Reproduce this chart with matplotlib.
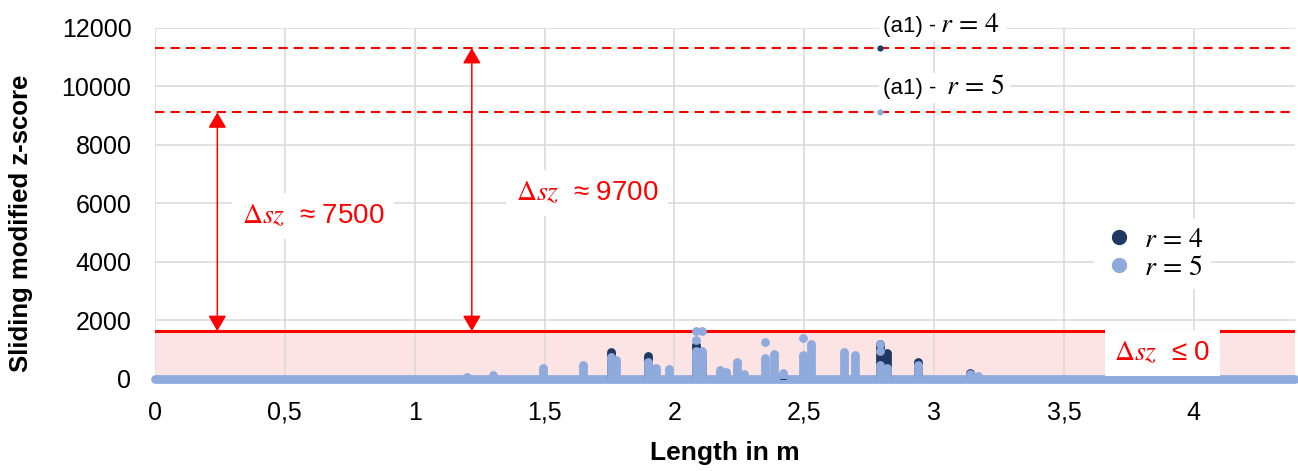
import numpy as np
import matplotlib.pyplot as plt
from matplotlib.lines import Line2D

plt.rcParams['font.family'] = ['Liberation Sans', 'DejaVu Sans']
plt.rcParams['mathtext.fontset'] = 'stix'

# thresholds / annotated values
thr = 1620          # solid red line (upper limit of the shaded band)
a1_r4 = 11300       # (a1) - r=4
a1_r5 = 9100        # (a1) - r=5
x_a1 = 2.79
x_end = 4.39

# r = 4 (dark) spikes: column tops
stem4_x = [1.757, 1.90, 2.085, 2.107, 2.42, 2.79, 2.82, 2.94, 3.14]
stem4_y = [900, 780, 1150, 700, 100, 1180, 870, 580, 200]

# r = 5 (light) spikes: column tops and separated dots
stem5_x = [1.20, 1.30, 1.496, 1.65, 1.757, 1.777, 1.90, 1.93, 1.98, 2.085, 2.107,
           2.177, 2.20, 2.24, 2.27, 2.35, 2.385, 2.42, 2.496, 2.527, 2.654, 2.695,
           2.79, 2.82, 2.94, 3.14, 3.17]
stem5_y = [40, 110, 360, 460, 750, 630, 575, 360, 330, 950, 940,
           290, 220, 575, 150, 700, 840, 190, 800, 1180, 920, 800,
           460, 360, 460, 150, 100]
dot5_x = [2.085, 2.107, 2.085, 2.35, 2.496, 2.79, 2.79, 2.085]
dot5_y = [1640, 1640, 1300, 1260, 1380, 1180, 940, 700]

xticks = [0, 0.5, 1, 1.5, 2, 2.5, 3, 3.5, 4]
xticklabels = ['0', '0,5', '1', '1,5', '2', '2,5', '3', '3,5', '4']
yticks = [0, 2000, 4000, 6000, 8000, 10000, 12000]

c4 = '#203864'
c5 = '#8FAADC'
red = '#FF0000'
s_pt = 40
lw_stem = 6.3

fig = plt.figure(figsize=(12.98, 4.71), dpi=100)
ax = fig.add_axes([155/1298, 1-378.5/471, (1295-155)/1298, 351/471])

ax.axhspan(0, thr, color='#FDE4E4', zorder=0.2, lw=0)
ax.set_axisbelow(True)
ax.grid(True, color='#D9D9D9', lw=1.1)

ax.axhline(thr, color=red, lw=2.2, zorder=2)
for yv in (a1_r4, a1_r5):
    ax.axhline(yv, color=red, lw=1.5, dashes=(4.5, 2.9), zorder=2)

# baseline of points sitting at 0
ax.plot([0, x_end], [0, 0], color=c5, lw=lw_stem, solid_capstyle='round', zorder=3, clip_on=False)

# r = 4 series
ax.vlines(stem4_x, 0, stem4_y, color=c4, lw=lw_stem, zorder=3)
ax.scatter(stem4_x, stem4_y, s=s_pt, color=c4, zorder=3, lw=0)
# r = 5 series on top
ax.vlines(stem5_x, 0, stem5_y, color=c5, lw=lw_stem, zorder=4)
ax.scatter(stem5_x, stem5_y, s=s_pt, color=c5, zorder=4, lw=0)
ax.scatter(dot5_x, dot5_y, s=s_pt, color=c5, zorder=4, lw=0)

ax.scatter([x_a1], [a1_r4], s=20, color=c4, zorder=5, lw=0)
ax.scatter([x_a1], [a1_r5], s=20, color=c5, zorder=5, lw=0)

white = dict(boxstyle='square,pad=0.2', fc='white', ec='none')
for yv, lbl, off in ((12050, '$r\\,=\\,4$', 41), (9930, '$r\\,=\\,5$', 45)):
    ax.text(2.805, yv, '(a1) -', fontsize=16, ha='left', va='center', bbox=white, zorder=6,
            clip_on=False)
    ax.annotate(lbl, xy=(2.805, yv), xytext=(off, 1), textcoords='offset points',
                fontsize=20, ha='left', va='center', bbox=white, zorder=6,
                annotation_clip=False)

# double arrows
arr = dict(arrowstyle='<|-|>,head_length=0.95,head_width=0.55', color=red, lw=1.1,
           shrinkA=0, shrinkB=0, mutation_scale=10)
ax.annotate('', xy=(0.24, a1_r5), xytext=(0.24, thr), arrowprops=arr, zorder=5)
ax.annotate('', xy=(1.22, a1_r4), xytext=(1.22, thr), arrowprops=arr, zorder=5)

lab = dict(color=red, fontsize=20, ha='center', va='center', zorder=6,
           bbox=dict(boxstyle='square,pad=0.35', fc='white', ec='none'))
ax.text(0.608, 5550, '$\\mathit{\\Delta sz}$  \u2248 7500', **lab)
ax.text(1.665, 6340, '$\\mathit{\\Delta sz}$  \u2248 9700', **lab)
ax.text(3.88, 870, '$\\mathit{\\Delta sz}$  \u2264 0', **lab)

h4 = Line2D([], [], ls='none', marker='o', ms=10, color=c4)
h5 = Line2D([], [], ls='none', marker='o', ms=10, color=c5)
leg = ax.legend([h4, h5], ['$r\\,=\\,4$', '$r\\,=\\,5$'], loc='center', bbox_to_anchor=(0.875, 0.355),
                fontsize=20, frameon=True, facecolor='white', edgecolor='none', framealpha=1,
                handletextpad=0.3, handlelength=1.2, labelspacing=0.05, borderpad=0.3)
leg.set_zorder(6)

ax.set_xlim(0, x_end)
ax.set_ylim(0, 12000)
ax.set_xticks(xticks)
ax.set_xticklabels(xticklabels)
ax.set_yticks(yticks)
ax.tick_params(length=0, labelsize=18, colors='black')
ax.tick_params(axis='y', pad=17)
ax.tick_params(axis='x', pad=16)
for sp in ax.spines.values():
    sp.set_visible(False)

ax.set_xlabel('Length in m', fontsize=19, fontweight='bold', labelpad=12)
ax.set_ylabel('Sliding modified z-score', fontsize=18.5, fontweight='bold')
ax.yaxis.set_label_coords(-0.107, 0.443)

fig.savefig('out.png', dpi=100)
